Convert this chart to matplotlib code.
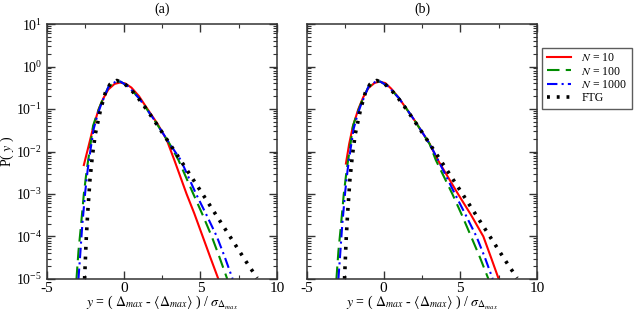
import numpy as np
import matplotlib
matplotlib.use("Agg")
import matplotlib.pyplot as plt
from matplotlib.ticker import LogLocator, MultipleLocator, NullFormatter

plt.rcParams['font.family'] = ['Liberation Serif', 'DejaVu Serif']
plt.rcParams['mathtext.fontset'] = 'stix'
plt.rcParams['axes.unicode_minus'] = False

# FTG (same curve in both panels)
x_ftg = [-2.55, -2.45, -2.35, -2.2, -2.05, -1.85, -1.5, -1.2, -0.9, -0.45, 0.0,
         0.5, 1.0, 1.5, 2.0, 3.0, 4.0, 5.0, 6.0, 7.0, 8.0, 8.7]
p_ftg = [1e-5, 8e-5, 3.5e-4, 2.2e-3, 7.5e-3, 2.6e-2, 0.10, 0.24, 0.38, 0.47, 0.41,
         0.28, 0.17, 0.097, 0.053, 0.0152, 4.3e-3, 1.2e-3, 3.3e-4, 9.1e-5, 2.5e-5, 1.05e-5]

# panel (a)
x_a10 = [-2.6, -2.3, -1.98, -1.63, -1.33, -1.0, -0.6, -0.25, 0.1, 0.5, 1.0, 1.55,
         2.2, 2.8, 3.3, 4.1, 4.6, 5.15, 5.65, 6.17]
p_a10 = [4.8e-3, 0.013, 0.038, 0.1, 0.178, 0.29, 0.39, 0.42, 0.40, 0.32, 0.2, 0.1,
         0.045, 0.019, 6.3e-3, 1e-3, 3.5e-4, 1e-4, 3.2e-5, 1e-5]
x_a100 = [-3.08, -2.95, -2.78, -2.6, -2.41, -2.2, -2.0, -1.75, -1.5, -1.0, -0.5,
          -0.2, 0.3, 1.0, 1.5, 2.0, 3.0, 3.57, 4.54, 5.15, 5.74, 6.25, 6.75]
p_a100 = [1e-5, 4.5e-5, 1.9e-4, 1e-3, 3.7e-3, 1.2e-2, 0.04, 0.075, 0.13, 0.33, 0.45,
          0.44, 0.34, 0.18, 0.1, 0.055, 0.015, 6.3e-3, 1e-3, 3.2e-4, 1e-4, 3.2e-5, 1e-5]
x_a1000 = [-2.95, -2.82, -2.7, -2.5, -2.35, -2.15, -1.95, -1.7, -1.5, -1.0, -0.5,
           -0.2, 0.3, 1.0, 1.5, 2.0, 3.0, 3.72, 4.72, 5.4, 6.07, 6.6, 7.1]
p_a1000 = [1e-5, 4.5e-5, 1.9e-4, 1.2e-3, 3.7e-3, 1.2e-2, 0.035, 0.075, 0.12, 0.33, 0.45,
           0.44, 0.34, 0.18, 0.1, 0.055, 0.0152, 6.3e-3, 1e-3, 3.2e-4, 1e-4, 3.2e-5, 1e-5]

# panel (b)
x_b10 = [-2.46, -2.25, -2.0, -1.65, -1.33, -1.0, -0.6, -0.3, 0.1, 0.5, 1.0, 1.5,
         2.0, 3.0, 3.46, 4.85, 5.7, 6.5, 7.0, 7.5]
p_b10 = [5.2e-3, 0.015, 0.04, 0.1, 0.19, 0.31, 0.41, 0.44, 0.41, 0.30, 0.18, 0.1,
         0.055, 0.0152, 7e-3, 1e-3, 3.2e-4, 1e-4, 3.2e-5, 1e-5]
x_b100 = [-3.08, -2.95, -2.78, -2.6, -2.41, -2.2, -2.0, -1.75, -1.5, -1.0, -0.5,
          -0.2, 0.3, 1.0, 1.5, 2.0, 3.0, 3.4, 4.48, 5.1, 5.7, 6.28, 6.83]
p_b100 = p_a100[:17] + [6.3e-3, 1e-3, 3.2e-4, 1e-4, 3.2e-5, 1e-5]
x_b1000 = [-2.95, -2.82, -2.7, -2.5, -2.35, -2.15, -1.95, -1.7, -1.5, -1.0, -0.5,
           -0.2, 0.3, 1.0, 1.5, 2.0, 3.0, 3.55, 4.65, 5.35, 6.05, 6.6, 7.11]
p_b1000 = p_a1000[:17] + [6.3e-3, 1e-3, 3.2e-4, 1e-4, 3.2e-5, 1e-5]

labels = [r'$N$ = 10', r'$N$ = 100', r'$N$ = 1000', 'FTG']

fig = plt.figure(figsize=(6.39, 3.21), dpi=100)
ax_a = fig.add_axes([0.0736, 0.131, 0.360, 0.794])
ax_b = fig.add_axes([0.4804, 0.131, 0.360, 0.794])

panels = [
    (ax_a, '(a)', (x_a10, p_a10), (x_a100, p_a100), (x_a1000, p_a1000)),
    (ax_b, '(b)', (x_b10, p_b10), (x_b100, p_b100), (x_b1000, p_b1000)),
]

for ax, title, c10, c100, c1000 in panels:
    ax.plot(*c10, color='#ff0000', lw=1.5, label=labels[0])
    ax.plot(*c100, color='#008c00', lw=1.5, ls=(0, (6, 3)), label=labels[1])
    ax.plot(*c1000, color='#0000ff', lw=1.5, ls=(0, (5, 2, 1, 2)), label=labels[2])
    ax.plot(x_ftg, p_ftg, color='black', lw=2.6, ls=(0, (0.8, 1.9)), label=labels[3])
    ax.set_yscale('log')
    ax.set_xlim(-5, 10)
    ax.set_ylim(1e-5, 10)
    ax.xaxis.set_major_locator(MultipleLocator(5))
    ax.xaxis.set_minor_locator(MultipleLocator(2.5))
    ax.yaxis.set_major_locator(LogLocator(base=10, numticks=10))
    ax.yaxis.set_minor_locator(LogLocator(base=10, subs=np.arange(2, 10), numticks=10))
    ax.yaxis.set_minor_formatter(NullFormatter())
    ax.tick_params(which='both', direction='in', top=True, right=True,
                   labelsize=10, color='#333333')
    ax.tick_params(axis='x', labelsize=11, pad=2)
    ax.tick_params(which='major', length=6, width=1)
    ax.tick_params(which='minor', length=3, width=0.8)
    for s in ax.spines.values():
        s.set_linewidth(1.1)
        s.set_color('#333333')
    ax.set_title(title, fontsize=10, pad=8)
    ax.set_xlabel(r'$y$ = ( $\Delta_{max}$ - $\langle\Delta_{max}\rangle$ ) / $\sigma_{\Delta_{max}}$',
                  fontsize=10, labelpad=-1)

ax_a.set_ylabel('P( $y$ )', fontsize=10, labelpad=0)
ax_b.tick_params(labelleft=False)

handles, labs = ax_a.get_legend_handles_labels()
leg = fig.legend(handles, labs, loc='upper right', bbox_to_anchor=(0.998, 0.87),
                 fontsize=8.5, frameon=True, fancybox=False, handlelength=2.0,
                 borderpad=0.4, labelspacing=0.1, handletextpad=0.9)
leg.get_frame().set_edgecolor('#333333')
leg.get_frame().set_linewidth(1.0)

fig.savefig('out.png', dpi=100)
